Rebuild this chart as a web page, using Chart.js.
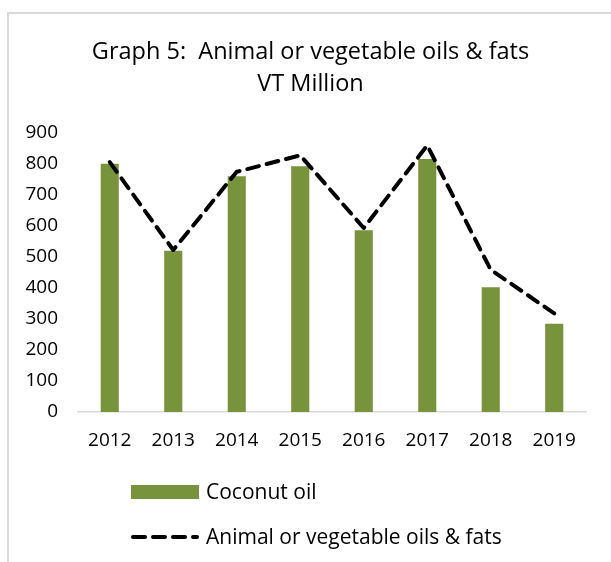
<!DOCTYPE html>
<html>
<head>
<meta charset="utf-8">
<script src="https://cdn.jsdelivr.net/npm/chart.js@4/dist/chart.umd.min.js"></script>
<style>
  html, body { margin: 0; padding: 0; background: #fff; }
  #wrap { position: relative; width: 611px; height: 562px; overflow: hidden; }
  #frame { position: absolute; left: 7px; top: 12px; width: 640px; height: 600px; border: 2px solid #d9d9d9; box-sizing: border-box; }
  canvas { position: absolute; left: 0; top: 0; }
</style>
</head>
<body>
<div id="wrap">
  <div id="frame"></div>
  <canvas id="c" width="611" height="562"></canvas>
</div>
<script>
const titleLines = ['Graph 5:  Animal or vegetable oils & fats', 'VT Million'];
const years = ['2012', '2013', '2014', '2015', '2016', '2017', '2018', '2019'];
const coconutOil = [800, 520, 760, 792, 586, 815, 402, 284];
const animalVegOils = [805, 522, 774, 827, 593, 859, 458, 318];
const yTicks = [0, 100, 200, 300, 400, 500, 600, 700, 800, 900];

const FONT = "'Open Sans', sans-serif";
const GREEN = '#77933C';

const customLegend = {
  id: 'customLegend',
  afterDraw(chart) {
    const ctx = chart.ctx;
    const ds = chart.data.datasets;
    const x0 = 131, boxW = 68, textX = 206;
    const rows = [492, 537];
    ctx.save();
    ctx.font = "21px " + FONT;
    ctx.textBaseline = 'middle';
    ctx.textAlign = 'left';
    const bar = ds.find(d => d.type === 'bar');
    ctx.fillStyle = bar.backgroundColor;
    ctx.fillRect(x0, rows[0] - 7, boxW, 14);
    ctx.fillStyle = '#000';
    ctx.fillText(bar.label, textX, rows[0] + 1);
    const line = ds.find(d => d.type === 'line');
    ctx.strokeStyle = line.borderColor;
    ctx.lineWidth = line.borderWidth;
    ctx.lineCap = line.borderCapStyle;
    ctx.setLineDash(line.borderDash);
    ctx.beginPath();
    ctx.moveTo(x0 + 2, rows[1]);
    ctx.lineTo(x0 + boxW - 2, rows[1]);
    ctx.stroke();
    ctx.setLineDash([]);
    ctx.fillText(line.label, textX, rows[1] + 1);
    ctx.restore();
  }
};

new Chart(document.getElementById('c'), {
  data: {
    labels: years,
    datasets: [
      {
        type: 'line',
        label: 'Animal or vegetable oils & fats',
        data: animalVegOils,
        borderColor: '#000',
        borderWidth: 4,
        borderDash: [12, 8],
        borderCapStyle: 'round',
        borderJoinStyle: 'round',
        pointRadius: 0,
        tension: 0,
        fill: false,
        order: 0
      },
      {
        type: 'bar',
        label: 'Coconut oil',
        data: coconutOil,
        backgroundColor: GREEN,
        borderWidth: 0,
        barPercentage: 0.285,
        categoryPercentage: 1,
        order: 1
      }
    ]
  },
  options: {
    responsive: false,
    animation: false,
    events: [],
    layout: { padding: { left: 10, right: 0, top: 0, bottom: 0 } },
    plugins: {
      legend: { display: false },
      tooltip: { enabled: false },
      title: {
        display: true,
        text: titleLines,
        color: '#000',
        font: { family: FONT, size: 23.5, weight: 'normal', lineHeight: 32 / 23.5 },
        padding: { top: 36, bottom: 32.7 }
      }
    },
    scales: {
      x: {
        grid: { display: true, drawOnChartArea: false, drawTicks: false },
        border: { display: true, color: '#d9d9d9', width: 1.5 },
        ticks: { color: '#000', font: { family: FONT, size: 19 }, padding: 17, maxRotation: 0, autoSkip: false },
        afterFit(scale) { scale.height = 150; }
      },
      y: {
        min: 0,
        max: 900,
        grid: { display: false, drawTicks: false },
        border: { display: false },
        afterBuildTicks(scale) { scale.ticks = yTicks.map(v => ({ value: v })); },
        ticks: { color: '#000', font: { family: FONT, size: 19 }, padding: 20 },
        afterFit(scale) { scale.width = 68; }
      },
      yRightSpace: {
        type: 'linear',
        axis: 'y',
        position: 'right',
        display: true,
        grid: { display: false, drawTicks: false },
        border: { display: false },
        ticks: { display: false },
        afterFit(scale) { scale.width = 25; }
      }
    }
  },
  plugins: [customLegend]
});
</script>
</body>
</html>
